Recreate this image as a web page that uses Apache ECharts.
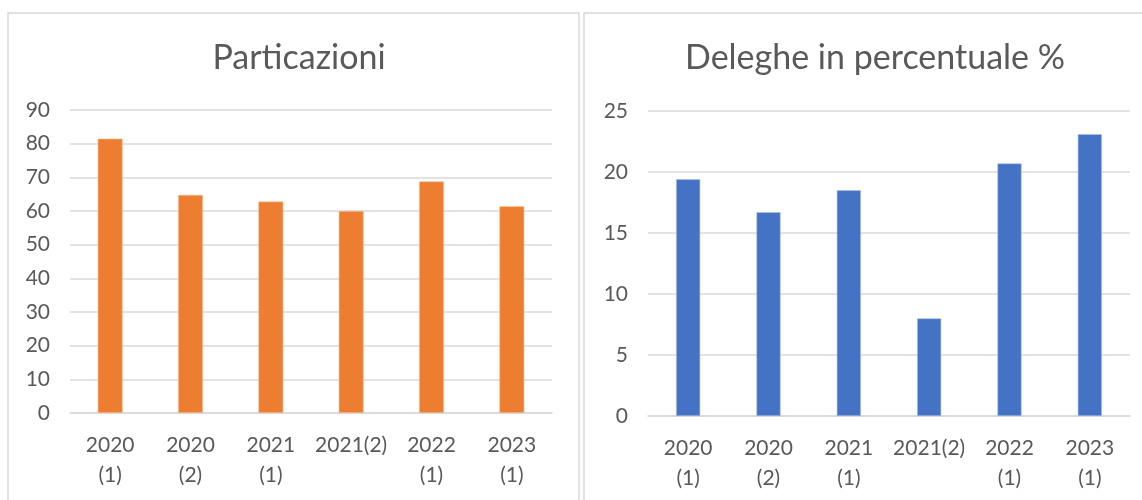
<!DOCTYPE html>
<html>
<head>
<meta charset="utf-8">
<script src="https://cdn.jsdelivr.net/npm/echarts@6/dist/echarts.min.js"></script>
<style>
  body { margin: 0; background: #fff; }
  #main { width: 1142px; height: 500px; }
</style>
</head>
<body>
<div id="main"></div>
<script>
var categories = ["2020\n(1)", "2020\n(2)", "2021\n(1)", "2021(2)", "2022\n(1)", "2023\n(1)"];
var partecipazioni = [81.5, 64.8, 62.8, 60, 68.8, 61.4];
var deleghe = [19.4, 16.7, 18.5, 8.0, 20.7, 23.1];
var titles = ["Particazioni", "Deleghe in percentuale %"];

var textColor = "#595959";
var gridColor = "#d9d9d9";
var font = "Lato, 'Open Sans', sans-serif";

function xAxis(idx) {
  return {
    type: "category",
    gridIndex: idx,
    data: categories,
    axisTick: { show: false },
    axisLine: { show: true, lineStyle: { color: gridColor, width: 1.5 } },
    axisLabel: { color: textColor, fontSize: 21, fontFamily: font, lineHeight: 30, margin: 17, interval: 0 }
  };
}

function yAxis(idx, max, interval) {
  return {
    type: "value",
    gridIndex: idx,
    min: 0,
    max: max,
    interval: interval,
    axisLine: { show: false },
    axisTick: { show: false },
    splitLine: { lineStyle: { color: gridColor, width: 1.5 } },
    axisLabel: { color: textColor, fontSize: 21, fontFamily: font, margin: 20 }
  };
}

var myChart = echarts.init(document.getElementById("main"));
var option = {
  backgroundColor: "#FFFFFF",
  animation: false,
  graphic: [
    { type: "rect", shape: { x: 8, y: 13, width: 571, height: 500 }, style: { fill: "none", stroke: gridColor, lineWidth: 1.5 } },
    { type: "rect", shape: { x: 584, y: 13, width: 570, height: 500 }, style: { fill: "none", stroke: gridColor, lineWidth: 1.5 } }
  ],
  title: [
    { text: titles[0], left: 294, top: 36, textAlign: "center", textStyle: { color: textColor, fontSize: 34, fontWeight: "normal", fontFamily: font } },
    { text: titles[1], left: 870, top: 36, textAlign: "center", textStyle: { color: textColor, fontSize: 34, fontWeight: "normal", fontFamily: font } }
  ],
  grid: [
    { left: 70, top: 110, width: 482, height: 303 },
    { left: 648, top: 111, width: 482, height: 305 }
  ],
  xAxis: [xAxis(0), xAxis(1)],
  yAxis: [yAxis(0, 90, 10), yAxis(1, 25, 5)],
  series: [
    {
      type: "bar",
      xAxisIndex: 0,
      yAxisIndex: 0,
      data: partecipazioni,
      barWidth: "31%",
      itemStyle: { color: "#ED7D31", borderColor: "#f6c4a3", borderWidth: 0.6 }
    },
    {
      type: "bar",
      xAxisIndex: 1,
      yAxisIndex: 1,
      data: deleghe,
      barWidth: "30%",
      itemStyle: { color: "#4472C4", borderColor: "#a9bde6", borderWidth: 0.6 }
    }
  ]
};
myChart.setOption(option);
</script>
</body>
</html>
